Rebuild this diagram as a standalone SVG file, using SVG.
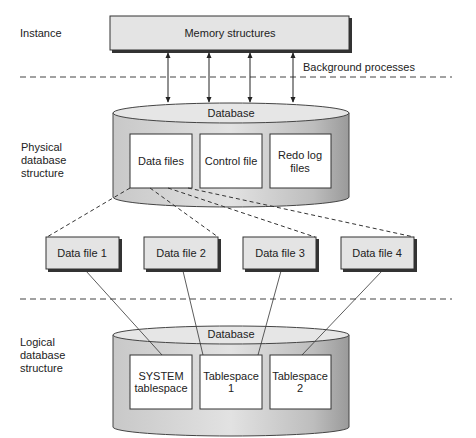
<svg xmlns="http://www.w3.org/2000/svg" width="476" height="438" viewBox="0 0 476 438">
<defs>
<style>
text{font-family:"Liberation Sans",Arial,sans-serif;font-size:11px;fill:#222;}
.c{text-anchor:middle;}
.sep{stroke:#444;stroke-width:1.2;stroke-dasharray:6,4;fill:none;}
.dash{stroke:#333;stroke-width:1;stroke-dasharray:4,3;fill:none;}
.solid{stroke:#333;stroke-width:0.8;fill:none;}
.arr{stroke:#222;stroke-width:1;fill:none;marker-start:url(#ah);marker-end:url(#ah);}
.box{fill:#e4e4e4;stroke:#333;stroke-width:1;}
.shadow{fill:#333;}
.inner{fill:#fff;stroke:#333;stroke-width:1;}
.top{fill:#e6e6e6;stroke:#444;stroke-width:1;}
.side{fill:url(#cyl);stroke:#444;stroke-width:1;}
</style>
<linearGradient id="cyl" x1="0" y1="0" x2="1" y2="0">
<stop offset="0" stop-color="#c8c8c8"/>
<stop offset="0.5" stop-color="#e2e2e2"/>
<stop offset="0.85" stop-color="#bdbdbd"/>
<stop offset="1" stop-color="#9a9a9a"/>
</linearGradient>
<marker id="ah" viewBox="0 0 8 8" refX="7" refY="4" markerWidth="6" markerHeight="6" orient="auto-start-reverse">
<path d="M0,0.5 L8,4 L0,7.5 z" fill="#222"/>
</marker>
</defs>

<g id="labels">
<text x="20" y="37">Instance</text>
<text x="303" y="71">Background processes</text>
<text x="21" y="151">Physical</text>
<text x="21" y="164">database</text>
<text x="21" y="177">structure</text>
<text x="20" y="346">Logical</text>
<text x="20" y="359">database</text>
<text x="20" y="372">structure</text>
</g>

<g id="separators">
<line class="sep" x1="20" y1="77" x2="452" y2="77"/>
<line class="sep" x1="20" y1="299" x2="452" y2="299"/>
</g>

<g id="memory">
<rect class="shadow" x="112" y="18" width="240" height="35"/>
<rect class="box" x="110" y="16" width="239" height="34"/>
<text class="c" x="230" y="37">Memory structures</text>
</g>

<g id="physical-db">
<path class="side" d="M113,113 L113,197 A118,10 0 0 0 349,197 L349,113 z"/>
<ellipse class="top" cx="231" cy="113" rx="118" ry="10"/>
<text class="c" x="231" y="117">Database</text>
<rect class="inner" x="130" y="134" width="62" height="54"/>
<text class="c" x="161" y="165">Data files</text>
<rect class="inner" x="200" y="134" width="62" height="54"/>
<text class="c" x="231" y="165">Control file</text>
<rect class="inner" x="270" y="134" width="61" height="54"/>
<text class="c" x="300" y="159">Redo log</text>
<text class="c" x="300" y="172">files</text>
</g>

<g id="datafile1">
<rect class="shadow" x="48" y="239" width="74" height="33"/>
<rect class="box" x="46" y="237" width="73" height="32"/>
<text class="c" x="82" y="257">Data file 1</text>
</g>
<g id="datafile2">
<rect class="shadow" x="146" y="239" width="75" height="33"/>
<rect class="box" x="144" y="237" width="74" height="32"/>
<text class="c" x="181" y="257">Data file 2</text>
</g>
<g id="datafile3">
<rect class="shadow" x="245" y="239" width="74" height="33"/>
<rect class="box" x="243" y="237" width="73" height="32"/>
<text class="c" x="280" y="257">Data file 3</text>
</g>
<g id="datafile4">
<rect class="shadow" x="343" y="239" width="74" height="33"/>
<rect class="box" x="341" y="237" width="73" height="32"/>
<text class="c" x="377" y="257">Data file 4</text>
</g>

<g id="logical-db">
<path class="side" d="M113,335 L113,427 A118,9 0 0 0 349,427 L349,335 z"/>
<ellipse class="top" cx="231" cy="335" rx="118" ry="9"/>
<text class="c" x="231" y="338">Database</text>
<rect class="inner" x="130" y="355" width="62" height="54"/>
<text class="c" x="161" y="380">SYSTEM</text>
<text class="c" x="161" y="392">tablespace</text>
<rect class="inner" x="200" y="355" width="62" height="54"/>
<text class="c" x="231" y="380">Tablespace</text>
<text class="c" x="231" y="392">1</text>
<rect class="inner" x="270" y="355" width="61" height="54"/>
<text class="c" x="300" y="380">Tablespace</text>
<text class="c" x="300" y="392">2</text>
</g>

<g id="connectors">
<line class="arr" x1="168" y1="53" x2="168" y2="102"/>
<line class="arr" x1="209" y1="53" x2="209" y2="102"/>
<line class="arr" x1="250" y1="53" x2="250" y2="102"/>
<line class="arr" x1="293" y1="53" x2="293" y2="102"/>
<line class="dash" x1="130" y1="188" x2="47" y2="237"/>
<line class="dash" x1="150" y1="188" x2="218" y2="237"/>
<line class="dash" x1="168" y1="188" x2="315" y2="237"/>
<line class="dash" x1="188" y1="188" x2="414" y2="237"/>
<line class="solid" x1="86" y1="271" x2="162" y2="355"/>
<line class="solid" x1="183" y1="271" x2="203" y2="355"/>
<line class="solid" x1="281" y1="271" x2="258" y2="355"/>
<line class="solid" x1="382" y1="271" x2="302" y2="355"/>
</g>
</svg>
